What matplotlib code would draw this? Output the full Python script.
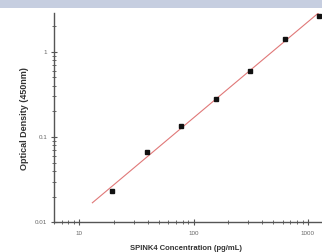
import numpy as np
import matplotlib
matplotlib.use('Agg')
from matplotlib import pyplot as plt
from matplotlib.patches import Rectangle
from matplotlib.ticker import FixedLocator, LogLocator, NullFormatter

# standard curve points
conc = [19.5, 39, 78, 156, 312, 625, 1250]
od = [0.023, 0.066, 0.134, 0.279, 0.598, 1.40, 2.64]
fit_range = [13, 1400]

x_ticks = [10, 100, 1000]
x_ticklabels = ['10', '100', '1000']
y_ticks = [0.01, 0.1, 1]
y_ticklabels = ['0.01', '0.1', '1']

plt.rcParams['font.family'] = ['Liberation Sans', 'DejaVu Sans']

fig = plt.figure(figsize=(3.22, 2.52), dpi=100)
fig.patches.append(Rectangle((0, 1 - 8 / 252), 1, 8 / 252, transform=fig.transFigure,
                             facecolor='#c6cee0', edgecolor='none', zorder=0))

ax = fig.add_axes([54 / 322, 1 - 222.3 / 252, 1 - 54 / 322, (222.3 - 13.3) / 252])
ax.set_xscale('log')
ax.set_yscale('log')

# straight line fit in log-log space
k, b = np.polyfit(np.log10(conc), np.log10(od), 1)
xf = np.logspace(np.log10(fit_range[0]), np.log10(fit_range[1]), 50)
ax.plot(xf, 10 ** (k * np.log10(xf) + b), color='#e07878', lw=0.8, zorder=2)
ax.plot(conc, od, 's', color='#111111', ms=2.8, zorder=3, clip_on=False)

ax.set_xlim(6, 1330)
ax.set_ylim(0.01, 2.82)

ax.xaxis.set_major_locator(FixedLocator(x_ticks))
ax.set_xticklabels(x_ticklabels)
ax.yaxis.set_major_locator(FixedLocator(y_ticks))
ax.set_yticklabels(y_ticklabels)
for axis in (ax.xaxis, ax.yaxis):
    axis.set_minor_locator(LogLocator(base=10, subs=np.arange(2, 10)))
    axis.set_minor_formatter(NullFormatter())

ax.tick_params(which='major', direction='inout', length=4, width=0.8,
               color='#555555', labelsize=4.5, labelcolor='#666666')
ax.tick_params(which='minor', direction='inout', length=2.5, width=0.6, color='#555555')
ax.tick_params(axis='x', which='major', pad=4)
ax.tick_params(axis='y', which='major', pad=3)

for side in ('top', 'right'):
    ax.spines[side].set_visible(False)
for side in ('left', 'bottom'):
    ax.spines[side].set_color('#555555')
    ax.spines[side].set_linewidth(1.0)

ax.set_ylabel('Optical Density (450nm)', fontsize=6.5, fontweight='bold', color='#333333')
ax.yaxis.set_label_coords(-25 / 268, (222.3 - 118.5) / 209)
ax.set_xlabel('SPINK4 Concentration (pg/mL)', fontsize=5.5, fontweight='bold', color='#333333')
ax.xaxis.set_label_coords((186 - 54) / 268, -(245 - 222.3) / 209)

fig.savefig('out.png', dpi=100)
